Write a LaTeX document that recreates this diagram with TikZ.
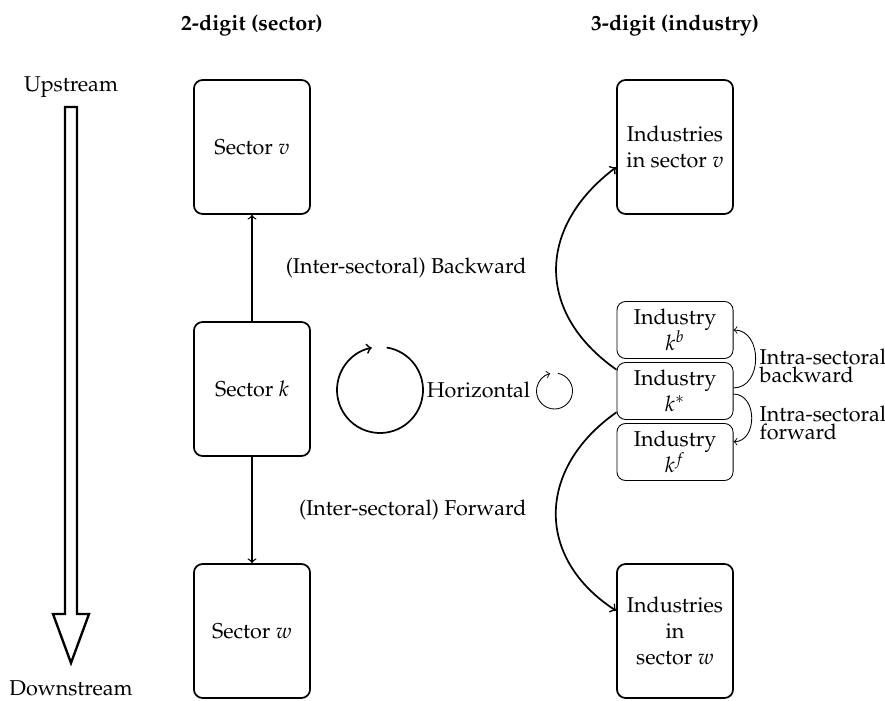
\documentclass[tikz,border=0pt]{standalone}
\usepackage[T1]{fontenc}
\usepackage{mathpazo}

\begin{document}
\begin{tikzpicture}[x=0.465pt,y=0.465pt,
    bigbox/.style={draw,thick,rounded corners,minimum width=54pt,minimum height=62.3pt,align=center},
    smallbox/.style={draw,thin,rounded corners,minimum width=54pt,minimum height=26.5pt,align=center,inner sep=1pt},
    head/.style={font=\bfseries}]
  \useasboundingbox (0,0) rectangle (885,700);
  % column headings
  \node[head] (hsector) at (252,675) {2-digit (sector)};
  \node[head] (hindustry) at (675,675) {3-digit (industry)};
  % upstream / downstream
  \node (up) at (71,613) {Upstream};
  \node (down) at (71,12) {Downstream};
  \draw[line width=1.1pt]
    (65,593) -- (77,593) -- (77,86) -- (89,86) -- (71,37) -- (53,86) -- (65,86) -- cycle;
  % sectors
  \node[bigbox] (sv) at (252,553) {Sector $v$};
  \node[bigbox] (sk) at (252,311) {Sector $k$};
  \node[bigbox] (sw) at (252,69) {Sector $w$};
  \draw[semithick,->] (sk) -- (sv);
  \draw[semithick,->] (sk) -- (sw);
  \node[anchor=east] (lback) at (534,432) {(Inter-sectoral) Backward};
  \node[anchor=east] (lfwd) at (534,190) {(Inter-sectoral) Forward};
  % horizontal
  \coordinate (hc) at (380,310);
  \draw[thick,->] (hc) ++(81:43) arc[start angle=81,end angle=-259,radius=43];
  \node (hor) at (478.5,310) {Horizontal};
  \coordinate (sc) at (554.5,309);
  \draw[thin,->] (sc) ++(79:18) arc[start angle=79,end angle=-256,radius=18];
  % industries
  \node[bigbox] (iv) at (675,553) {Industries\\in sector $v$};
  \node[bigbox] (iw) at (675,69) {Industries\\in\\sector $w$};
  \node[smallbox] (kb) at (675,370) {Industry\\$k^b$};
  \node[smallbox] (ks) at (675,309) {Industry\\$k^*$};
  \node[smallbox] (kf) at (675,248) {Industry\\$k^f$};
  \draw[thick,->] (ks.160) to[out=145,in=217,looseness=1.25] (iv.199);
  \draw[thick,->] (ks.200) to[out=215,in=147,looseness=1.25] (iw.161);
  \draw[thin,->] (ks.3) to[out=0,in=0,looseness=1.3] (kb.east);
  \draw[thin,->] (ks.-3) to[out=0,in=0,looseness=1.3] (kf.10);
  \node[anchor=west,align=left] (lintb) at (752,334) {Intra-sectoral\\[-3.5pt]backward};
  \node[anchor=west,align=left] (lintf) at (752,277) {Intra-sectoral\\[-3.5pt]forward};
\end{tikzpicture}
\end{document}
